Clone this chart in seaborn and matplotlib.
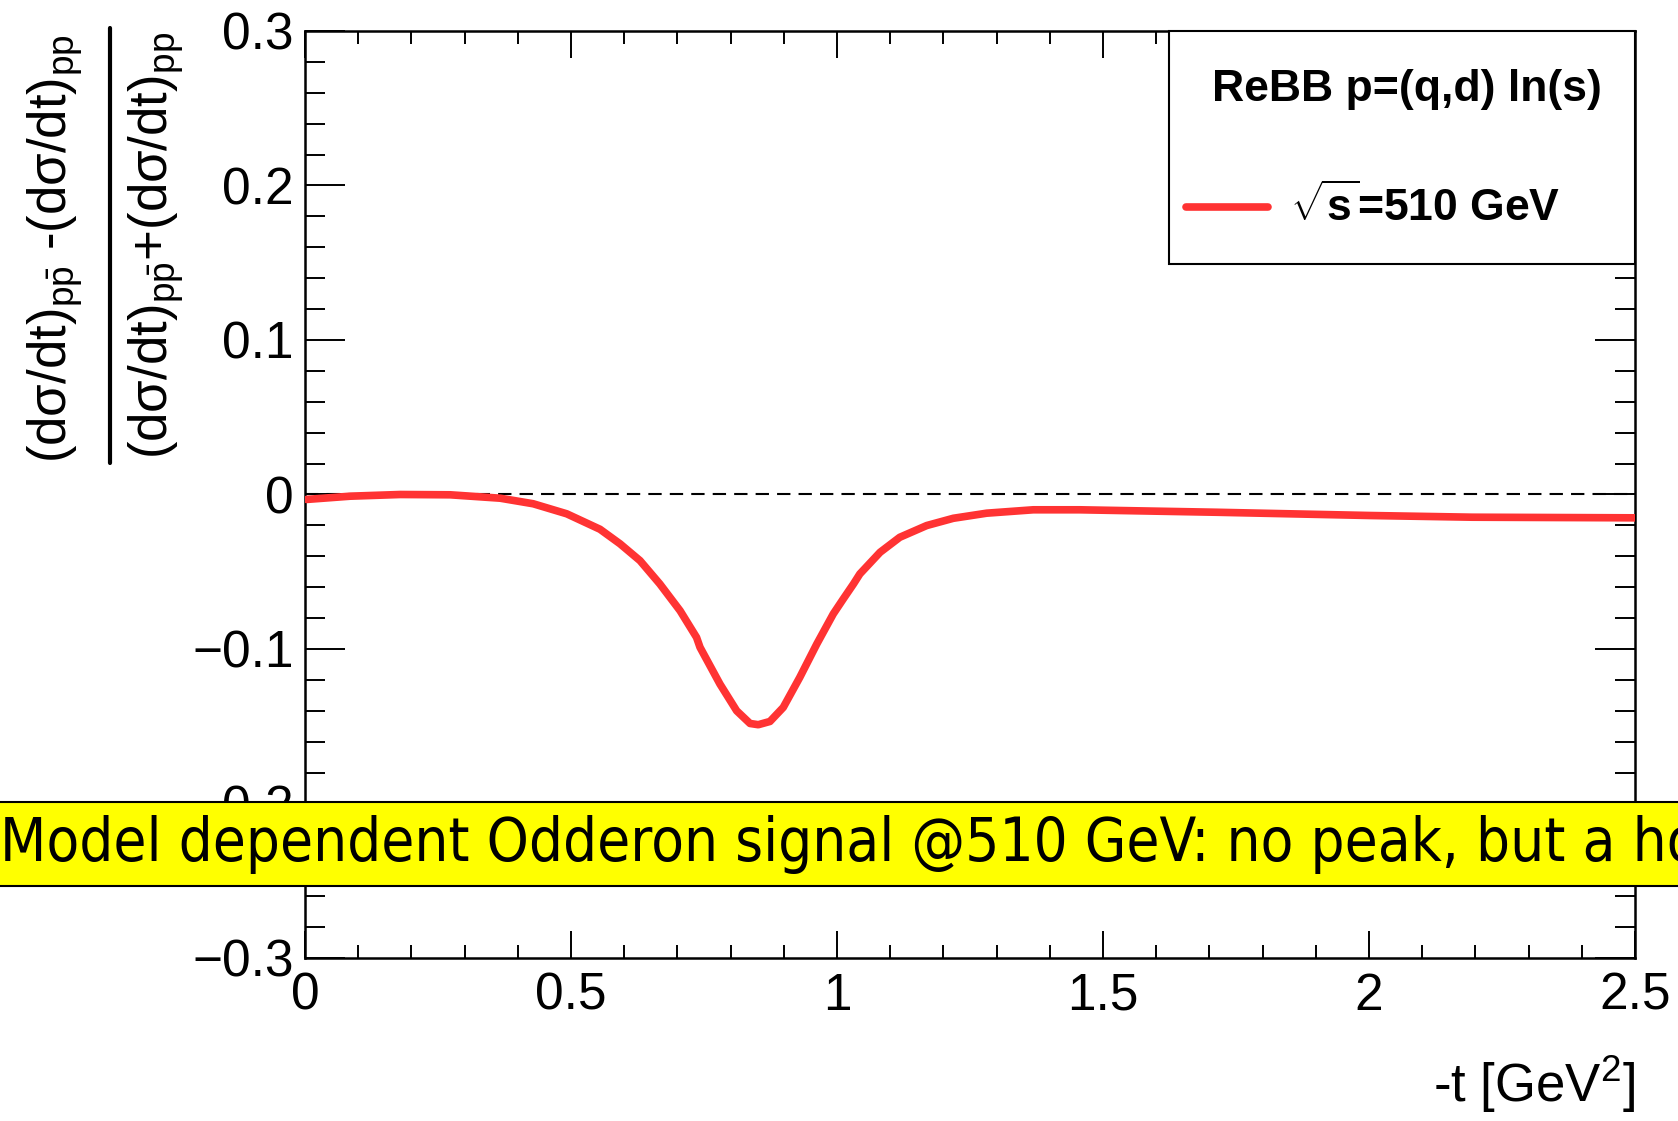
import matplotlib
matplotlib.use("Agg")
import matplotlib.pyplot as plt
import matplotlib.patches as mpatches
from matplotlib.lines import Line2D
import pandas as pd
import seaborn as sns

# --- values: -t [GeV^2] and the pp / ppbar asymmetry ---
t_vals = [0.003, 0.085, 0.179, 0.273, 0.367, 0.429, 0.492, 0.5545, 0.5921,
          0.6297, 0.667, 0.705, 0.736, 0.7425, 0.780, 0.8114, 0.8365, 0.852,
          0.874, 0.899, 0.930, 0.962, 0.993, 1.0118, 1.031, 1.043, 1.081,
          1.118, 1.1686, 1.2186, 1.2813, 1.369, 1.456, 1.714, 2.002, 2.194, 2.5]
asym_vals = [-0.0032, -0.0011, 0.0, -0.0002, -0.0024, -0.006, -0.0125, -0.0225,
             -0.0319, -0.0428, -0.0579, -0.0752, -0.0925, -0.0989, -0.1227,
             -0.140, -0.1482, -0.149, -0.1469, -0.1378, -0.1184, -0.0968,
             -0.0773, -0.0676, -0.0579, -0.0514, -0.0374, -0.0277, -0.0201,
             -0.0154, -0.0121, -0.0099, -0.0099, -0.0115, -0.0136, -0.0147,
             -0.0151]

x_ticks = [0, 0.5, 1, 1.5, 2, 2.5]
x_tick_labels = ["0", "0.5", "1", "1.5", "2", "2.5"]
y_ticks = [-0.3, -0.2, -0.1, 0, 0.1, 0.2, 0.3]
y_tick_labels = ["\u22120.3", "\u22120.2", "\u22120.1", "0", "0.1", "0.2", "0.3"]

legend_title = "ReBB p=(q,d) ln(s)"
series_label = r"$\mathbf{\sqrt{s}}$=510 GeV"
banner_text = "Model dependent Odderon signal @510 GeV: no peak, but a hole"
y_num = r"(d$\sigma$/dt)$_{p\bar{p}}$ -(d$\sigma$/dt)$_{pp}$"
y_den = r"(d$\sigma$/dt)$_{p\bar{p}}$+(d$\sigma$/dt)$_{pp}$"

df = pd.DataFrame({"t": t_vals, "ratio": asym_vals})

sns.set_style("ticks")
plt.rcParams["font.family"] = ["Liberation Sans", "DejaVu Sans"]
plt.rcParams["mathtext.fontset"] = "custom"
plt.rcParams["mathtext.rm"] = "Liberation Sans"
plt.rcParams["mathtext.it"] = "Liberation Sans"
plt.rcParams["mathtext.bf"] = "Liberation Sans:bold"
for key in ["text.color", "axes.labelcolor", "xtick.color", "ytick.color", "axes.edgecolor"]:
    plt.rcParams[key] = "black"

W, H = 1678, 1121
fig = plt.figure(figsize=(W / 100, H / 100), dpi=100)
ax = fig.add_axes([0.18176, 0.14541, 0.79261, 0.82694])

red = "#ff3333"
ax.axhline(0, color="black", lw=1.5, ls=(0, (6.4, 3.9)), zorder=1)
sns.lineplot(data=df, x="t", y="ratio", color=red, lw=5.5, ax=ax,
             legend=False, zorder=3)

ax.set_xlim(0, 2.5)
ax.set_ylim(-0.3, 0.3)
ax.set_xticks(x_ticks)
ax.set_xticklabels(x_tick_labels)
ax.set_yticks(y_ticks)
ax.set_yticklabels(y_tick_labels)
ax.xaxis.set_minor_locator(matplotlib.ticker.MultipleLocator(0.1))
ax.yaxis.set_minor_locator(matplotlib.ticker.MultipleLocator(0.02))

ax.tick_params(axis="both", which="both", direction="in", top=True, right=True,
               width=1.4, labelsize=37)
ax.tick_params(axis="y", which="major", length=29, pad=8)
ax.tick_params(axis="y", which="minor", length=14.4)
ax.tick_params(axis="x", which="major", length=19.4, pad=10)
ax.tick_params(axis="x", which="minor", length=9.4)
for sp in ax.spines.values():
    sp.set_linewidth(1.8)

ax.set_xlabel(r"-t [GeV$^2$]", fontsize=38, loc="right")
ax.xaxis.set_label_coords(1.0, -0.103)
ax.set_ylabel("")

# y title as a ROOT style fraction, placed in figure pixels
fig.text(67 / W, 1 - 249 / H, y_num, fontsize=38, rotation=90,
         rotation_mode="anchor", ha="center", va="baseline")
fig.text(168 / W, 1 - 245 / H, y_den, fontsize=38, rotation=90,
         rotation_mode="anchor", ha="center", va="baseline")
fig.add_artist(Line2D([110 / W, 110 / W], [1 - 28 / H, 1 - 463 / H],
                      transform=fig.transFigure, color="black", lw=3))

# legend box (ROOT TLegend look)
ax.add_patch(mpatches.Rectangle((0.6496, 0.7487), 0.3504, 0.2513, transform=ax.transAxes,
                                facecolor="white", edgecolor="black", lw=1.5,
                                zorder=5, clip_on=False))
ax.text(0.8282, 0.9374, legend_title, transform=ax.transAxes, fontsize=32,
        fontweight="bold", ha="center", va="center", zorder=6)
ax.add_line(Line2D([0.6624, 0.7241], [0.8101, 0.8101], transform=ax.transAxes,
                   color=red, lw=5.5, zorder=6))
ax.text(0.7406, 0.8101, series_label, transform=ax.transAxes, fontsize=32,
        fontweight="bold", ha="left", va="center", zorder=6)

# yellow banner across the figure
fig.patches.append(mpatches.Rectangle((-0.01, 0.2096), 1.02, 0.0749,
                                      transform=fig.transFigure, facecolor="#ffff00",
                                      edgecolor="black", lw=1.5, zorder=10))
fig.text(0.0, 0.2471, banner_text, fontsize=43, family="DejaVu Sans",
         fontstretch="condensed", va="center", ha="left", zorder=11)

fig.savefig("out.png", dpi=100)
